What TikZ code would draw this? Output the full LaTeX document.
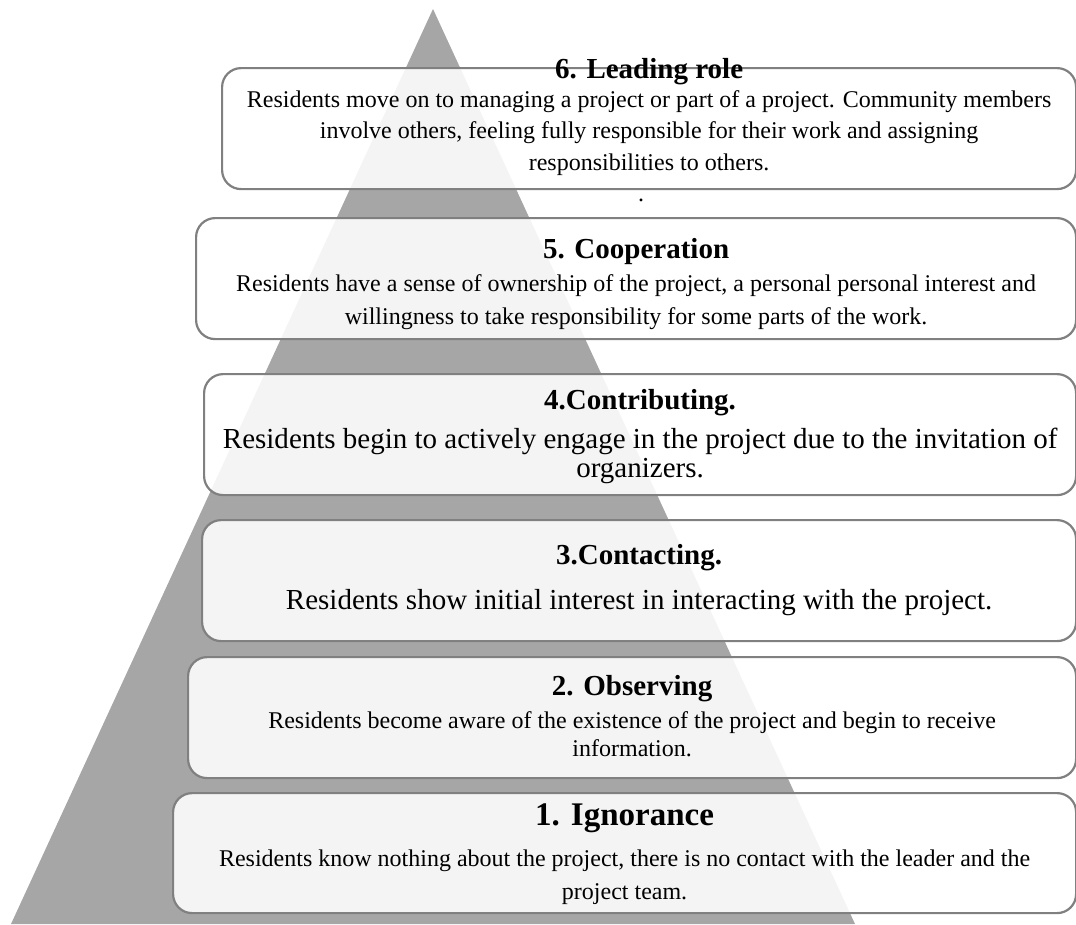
\documentclass[tikz,border=0pt]{standalone}
\usepackage{fontspec}
\setmainfont{Liberation Serif}
\usetikzlibrary{positioning}
\definecolor{pyramidgray}{HTML}{A6A6A6}
\definecolor{boxgray}{HTML}{808080}
\tikzstyle{stage box}=[
        draw = boxgray,
        line width = 2.2pt,
        rounded corners = 19pt,
        fill = white,
        fill opacity = 0.88,
        anchor = north west,
        inner sep = 0pt
    ]
\tikzstyle{stage title}=[
    font = \bfseries\fontsize{29}{32}\selectfont,
    anchor = base,
    inner sep = 0pt
]
\tikzstyle{stage text}=[
    font = \fontsize{24}{32}\selectfont,
    align = center,
    inner sep = 0pt
]

\begin{document}
\begin{tikzpicture}[x=1pt, y=-1pt, node distance=0pt]
        \useasboundingbox (0,0) rectangle (1076,924);
        \fill[pyramidgray] (11,924) -- (433,9) -- (855,924) -- cycle;

        \node[stage box, minimum width=854pt, minimum height=121pt] (b6) at (221,67) {};
        \node[stage box, minimum width=880pt, minimum height=121pt] (b5) at (195,217) {};
        \node[stage box, minimum width=872pt, minimum height=121pt] (b4) at (203,373) {};
        \node[stage box, minimum width=874pt, minimum height=121pt] (b3) at (201,519) {};
        \node[stage box, minimum width=888pt, minimum height=121pt] (b2) at (187,656) {};
        \node[stage box, minimum width=903pt, minimum height=120pt] (b1) at (172,792) {};

        \node[stage title] (t6) at ([yshift=-11pt]b6.north) {6. Leading role};
        \node[stage text, font=\fontsize{24}{31.5}\selectfont, below=23pt of b6.north] (d6) {Residents move on to managing a project or part of a project. Community members\\ involve others, feeling fully responsible for their work and assigning\\ responsibilities to others.};
        \node[stage text, below=9pt of b6.south, xshift=-8pt] (p6) {.};

        \node[stage title] (t5) at ([yshift=-41pt]b5.north) {5. Cooperation};
        \node[stage text, font=\fontsize{24}{33}\selectfont, below=57pt of b5.north] (d5) {Residents have a sense of ownership of the project, a personal personal interest and\\ willingness to take responsibility for some parts of the work.};

        \node[stage title] (t4) at ([yshift=-36pt]b4.north) {4.Contributing.};
        \node[stage text, font=\fontsize{29}{29}\selectfont, below=55pt of b4.north] (d4) {Residents begin to actively engage in the project due to the invitation of\\ organizers.};

        \node[stage title] (t3) at ([yshift=-45pt]b3.north) {3.Contacting.};
        \node[stage text, font=\fontsize{29}{29}\selectfont, below=70pt of b3.north] (d3) {Residents show initial interest in interacting with the project.};

        \node[stage title] (t2) at ([yshift=-39pt]b2.north) {2. Observing};
        \node[stage text, font=\fontsize{24}{28}\selectfont, below=55pt of b2.north] (d2) {Residents become aware of the existence of the project and begin to receive\\ information.};

        \node[stage title, font=\bfseries\fontsize{33}{36}\selectfont] (t1) at ([yshift=-33pt]b1.north) {1. Ignorance};
        \node[stage text, font=\fontsize{24}{33}\selectfont, below=58pt of b1.north] (d1) {Residents know nothing about the project, there is no contact with the leader and the\\ project team.};

    \end{tikzpicture}
\end{document}
